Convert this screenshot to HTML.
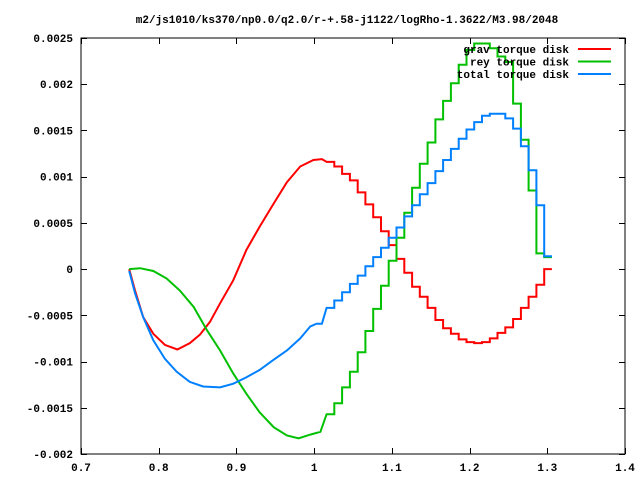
<!DOCTYPE html>
<html><head><meta charset="utf-8"><style>
body{margin:0;background:#fff}
svg text{font-family:"Liberation Mono","DejaVu Sans Mono",monospace;font-size:11px;font-weight:bold;fill:#000}
</style></head><body>
<svg id="chart" width="640" height="480" xmlns="http://www.w3.org/2000/svg">
<rect width="640" height="480" fill="#fff"/>
<text x="347" y="23" text-anchor="middle">m2/js1010/ks370/np0.0/q2.0/r-+.58-j1122/logRho-1.3622/M3.98/2048</text>
<g id="axes"></g>
<g id="series"></g>
<g id="legend"></g>
</svg>
<script>
const xTicks=[0.7,0.8,0.9,1,1.1,1.2,1.3,1.4];
const xTickLabels=["0.7","0.8","0.9","1","1.1","1.2","1.3","1.4"];
const yTicks=[-0.002,-0.0015,-0.001,-0.0005,0,0.0005,0.001,0.0015,0.002,0.0025];
const yTickLabels=["-0.002","-0.0015","-0.001","-0.0005","0","0.0005","0.001","0.0015","0.002","0.0025"];
const seriesNames=["grav torque disk","rey torque disk","total torque disk"];
// smooth part
const smoothX=[0.762,0.7695,0.780,0.793,0.808,0.824,0.840,0.853,0.866,0.879,0.896,0.913,0.930,0.948,0.965,0.982,0.999,1.010];
const gravSmooth=[0,-0.00023,-0.00052,-0.00070,-0.00082,-0.00087,-0.00080,-0.00071,-0.00057,-0.00037,-0.00012,0.00021,0.00046,0.00071,0.00094,0.00111,0.00118,0.00119];
const reySmoothX=[0.762,0.776,0.793,0.810,0.827,0.845,0.862,0.879,0.896,0.913,0.930,0.948,0.965,0.980,0.995,1.008];
const reySmooth=[0,0.00001,-0.00002,-0.0001,-0.00023,-0.00041,-0.00066,-0.00088,-0.00113,-0.00135,-0.00155,-0.00171,-0.00180,-0.00183,-0.00179,-0.00176];
const totSmoothX=[0.762,0.7695,0.780,0.793,0.808,0.823,0.840,0.857,0.879,0.896,0.913,0.930,0.948,0.965,0.982,0.995,1.003,1.010];
const totSmooth=[-0.00002,-0.00026,-0.00052,-0.00077,-0.00097,-0.00111,-0.00122,-0.00127,-0.00128,-0.00124,-0.00117,-0.00109,-0.00098,-0.00088,-0.00075,-0.00062,-0.00059,-0.00059];
// stepped part (bin starts)
const stepX=[1.016,1.026,1.036,1.046,1.056,1.066,1.076,1.086,1.096,1.106,1.116,1.126,1.136,1.146,1.156,1.166,1.176,1.186,1.196,1.206,1.216,1.226,1.236,1.246,1.256,1.266,1.276,1.286,1.296];
const stepEnd=1.306;
const gravSteps=[0.00116,0.00111,0.00103,0.00096,0.00083,0.00070,0.00056,0.00041,0.00026,0.00011,-0.00004,-0.00019,-0.00030,-0.00042,-0.00055,-0.00064,-0.00070,-0.00076,-0.00079,-0.00080,-0.00079,-0.00075,-0.00069,-0.00063,-0.00054,-0.00042,-0.00030,-0.00017,0.0];
const reySteps=[-0.00157,-0.00145,-0.00128,-0.00111,-0.00090,-0.00067,-0.00043,-0.00018,0.00009,0.00034,0.00061,0.00088,0.00114,0.00137,0.00162,0.00182,0.00201,0.00221,0.00237,0.00244,0.00244,0.00239,0.00230,0.00224,0.00179,0.00140,0.00085,0.00017,0.00013];
const totSteps=[-0.00042,-0.00034,-0.00025,-0.00016,-0.00007,0.00003,0.00013,0.00023,0.00034,0.00045,0.00057,0.00069,0.00081,0.00093,0.00106,0.00118,0.00130,0.00141,0.00151,0.00159,0.00166,0.00168,0.00168,0.00163,0.00152,0.00133,0.00107,0.00069,0.00014];

const L=81,R=625,T=38,B=454;
const xMin=0.7,xMax=1.4,yMin=-0.002,yMax=0.0025;
const sx=v=>L+(v-xMin)/(xMax-xMin)*(R-L);
const sy=v=>B-(v-yMin)/(yMax-yMin)*(B-T);
const NS="http://www.w3.org/2000/svg";
function mk(tag,attrs,parent){const e=document.createElementNS(NS,tag);for(const k in attrs)e.setAttribute(k,attrs[k]);parent.appendChild(e);return e;}
const axes=document.getElementById('axes');
const frame=mk('rect',{x:L,y:T,width:R-L,height:B-T,fill:'none',stroke:'#000','stroke-width':1},axes);


xTicks.forEach((v,i)=>{
  const x=Math.round(sx(v))+0.5;
  const t=mk('path',{d:`M${x} ${B}v-6M${x} ${T}v6`,stroke:'#000','stroke-width':1},axes);
  
  
  const lb=mk('text',{x:sx(v),y:B+17,'text-anchor':'middle'},axes);lb.textContent=xTickLabels[i];
  
  
});
yTicks.forEach((v,i)=>{
  const y=Math.round(sy(v))+0.5;
  const t=mk('path',{d:`M${L} ${y}h6M${R} ${y}h-6`,stroke:'#000','stroke-width':1},axes);
  
  
  const lb=mk('text',{x:L-8,y:sy(v)+4,'text-anchor':'end'},axes);lb.textContent=yTickLabels[i];
  
  
});
function buildPath(xs,ys,steps){
  let d='';
  xs.forEach((x,i)=>{d+=(i?'L':'M')+sx(x).toFixed(1)+' '+sy(ys[i]).toFixed(1);});
  steps.forEach((v,i)=>{
    const x0=stepX[i],x1=i+1<stepX.length?stepX[i+1]:stepEnd;
    d+='L'+sx(x0).toFixed(1)+' '+sy(v).toFixed(1)+'L'+sx(x1).toFixed(1)+' '+sy(v).toFixed(1);
  });
  return d;
}
const colors=['#ff0000','#00c000','#0080ff'];
const sg=document.getElementById('series');
const data=[[smoothX,gravSmooth,gravSteps],[reySmoothX,reySmooth,reySteps],[totSmoothX,totSmooth,totSteps]];
const snames=['grav-torque-line','rey-torque-line','total-torque-line'];
data.forEach((s,i)=>{
  const p=mk('path',{d:buildPath(s[0],s[1],s[2]),fill:'none',stroke:colors[i],'stroke-width':2,'stroke-linejoin':'miter'},sg);
  
  
});
const lg=document.getElementById('legend');
seriesNames.forEach((n,i)=>{
  const y=49+i*12.5;
  const t=mk('text',{x:569,y:y+4,'text-anchor':'end'},lg);t.textContent=n;
  
  
  const l=mk('line',{x1:578,x2:611,y1:y,y2:y,stroke:colors[i],'stroke-width':2},lg);
  
  
});
</script>
</body></html>
